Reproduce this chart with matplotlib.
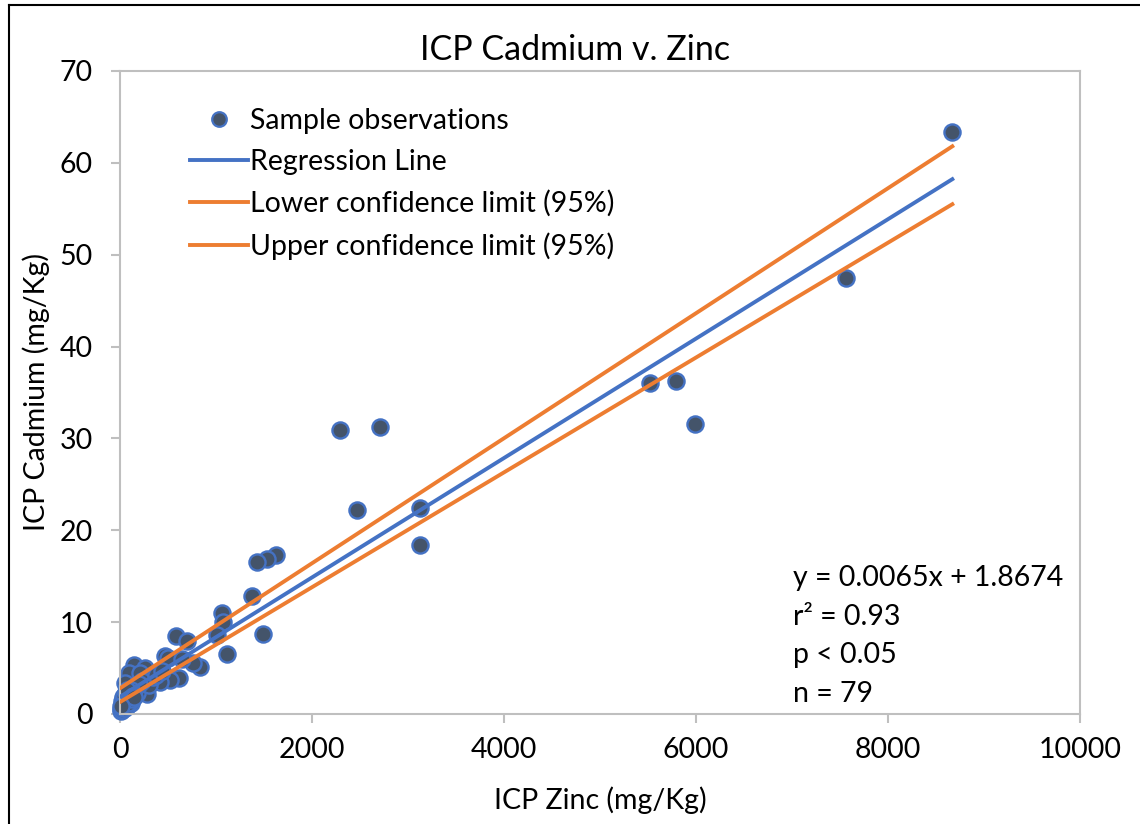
import matplotlib
matplotlib.use("Agg")
import matplotlib.pyplot as plt
from matplotlib.lines import Line2D
import numpy as np

plt.rcParams['font.family'] = ['Lato', 'DejaVu Sans']

# ---- data ----
zinc = [8670, 7560, 5520, 5790, 5990, 3130, 3130, 2470, 2290, 2710,
        1620, 1530, 1430, 1372, 1493, 1059, 1076, 1118, 1007, 583,
        701, 469, 500, 833, 760, 611, 521, 417, 281, 143,
        90, 260, 208, 125, 177, 55, 300, 340, 230, 380,
        440, 650, 160, 200, 10, 15, 20, 25, 30, 35,
        40, 45, 50, 55, 60, 65, 70, 75, 80, 85,
        90, 95, 100, 105, 110, 115, 120, 18, 28, 38,
        48, 58, 68, 78, 88, 130, 140, 150, 12]
cadmium = [63.4, 47.5, 36.0, 36.2, 31.6, 18.4, 22.4, 22.2, 30.9, 31.2,
           17.3, 16.9, 16.5, 12.8, 8.7, 11.0, 10.0, 6.5, 8.6, 8.5,
           8.0, 6.3, 6.1, 5.1, 5.6, 3.9, 3.7, 3.5, 2.2, 5.3,
           4.5, 5.0, 4.5, 3.0, 2.3, 3.4, 3.2, 4.0, 3.6, 4.3,
           4.7, 6.0, 2.8, 3.3, 0.3, 0.5, 0.8, 0.4, 1.0, 0.6,
           1.2, 0.9, 1.5, 1.1, 1.8, 1.3, 2.0, 1.6, 1.0, 2.2,
           1.7, 1.4, 2.4, 1.9, 1.2, 2.6, 2.1, 1.4, 1.8, 2.0,
           0.7, 2.4, 0.9, 2.6, 1.2, 1.6, 2.0, 1.8, 0.9]

# line coefficients (slope, intercept)
regression = [0.0065, 1.8674]
lower_cl = [0.006251, 1.30]
upper_cl = [0.006805, 2.80]

x_ticks = [0, 2000, 4000, 6000, 8000, 10000]
y_ticks = [0, 10, 20, 30, 40, 50, 60, 70]

title = "ICP Cadmium v. Zinc"
xlabel = "ICP Zinc (mg/Kg)"
ylabel = "ICP Cadmium (mg/Kg)"
stats_lines = ["y = 0.0065x + 1.8674", "r\u00b2 = 0.93", "p < 0.05", "n = 79"]
legend_labels = ["Sample observations", "Regression Line",
                 "Lower confidence limit (95%)", "Upper confidence limit (95%)"]

# ---- styles ----
BLUE = "#4472C4"
ORANGE = "#ED7D31"
NAVY = "#44546A"
GRID = "#BFBFBF"
FS = 20.5
LW = 2.8

fig = plt.figure(figsize=(11.4, 8.24), dpi=100)
W, H = 1140, 824
ax = fig.add_axes([120 / W, 1 - 714 / H, 960 / W, 643 / H])

xs = np.array([min(zinc), max(zinc)])
ax.plot(xs, upper_cl[0] * xs + upper_cl[1], color=ORANGE, lw=LW, zorder=3)
ax.plot(xs, lower_cl[0] * xs + lower_cl[1], color=ORANGE, lw=LW, zorder=3)
ax.plot(xs, regression[0] * xs + regression[1], color=BLUE, lw=LW, zorder=4)
ax.scatter(zinc, cadmium, s=135, c=NAVY, edgecolors=BLUE, linewidths=1.7,
           zorder=2, clip_on=False)

ax.set_xlim(0, 10000)
ax.set_ylim(0, 70)
ax.set_xticks(x_ticks)
ax.set_yticks(y_ticks)
ax.set_xticklabels([str(t) for t in x_ticks])
ax.set_yticklabels([str(t) for t in y_ticks])
for s in ax.spines.values():
    s.set_color(GRID)
    s.set_linewidth(1.5)
ax.tick_params(axis='both', colors=GRID, labelcolor='black', labelsize=FS,
               length=6.5, width=1.5, direction='out')
ax.tick_params(axis='x', pad=10)
ax.tick_params(axis='y', pad=13)

fig.text(600 / W, 1 - 800 / H, xlabel, fontsize=FS, ha='center', va='center')
fig.text(36 / W, 1 - 392 / H, ylabel, fontsize=FS, ha='center', va='center',
         rotation=90)
fig.text(575 / W, 1 - 50 / H, title, fontsize=24.5, ha='center', va='center')

handles = [
    Line2D([], [], ls='none', marker='o', markersize=10.5, markerfacecolor=NAVY,
           markeredgecolor=BLUE, markeredgewidth=1.6),
    Line2D([], [], color=BLUE, lw=LW),
    Line2D([], [], color=ORANGE, lw=LW),
    Line2D([], [], color=ORANGE, lw=LW),
]
ax.legend(handles, legend_labels, loc='upper left',
          bbox_to_anchor=(190 / W, 1 - 108 / H),
          bbox_transform=fig.transFigure, frameon=False, fontsize=FS,
          handlelength=2.05, handletextpad=0.07, labelspacing=0.53,
          borderaxespad=0, borderpad=0)

for i, line in enumerate(stats_lines):
    fig.text(793 / W, 1 - (578 + 38.7 * i) / H, line, fontsize=FS,
             ha='left', va='center')

# figure border (top and left visible)
fig.add_artist(Line2D([9 / W, 9 / W], [0, 1 - 5 / H], color='black', lw=1.5,
                      transform=fig.transFigure))
fig.add_artist(Line2D([9 / W, 1], [1 - 5 / H, 1 - 5 / H], color='black', lw=1.5,
                      transform=fig.transFigure))

fig.savefig("out.png", dpi=100)
